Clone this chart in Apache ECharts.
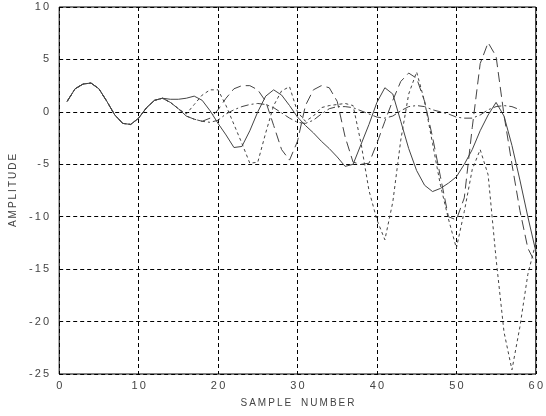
<!DOCTYPE html>
<html>
<head>
<meta charset="utf-8">
<script src="https://cdn.jsdelivr.net/npm/echarts@6/dist/echarts.min.js"></script>
<style>
  html, body { margin: 0; padding: 0; background: #fff; }
  #chart { width: 546px; height: 416px; }
</style>
</head>
<body>
<div id="chart"></div>
<script>
// tick labels
const xTicks = [0, 10, 20, 30, 40, 50, 60]
const yTicks = [-25, -20, -15, -10, -5, 0, 5, 10]

// samples 1..13 are the same for every trace
const common = [1.0, 2.2, 2.65, 2.75, 2.2, 1.0, -0.3, -1.1, -1.2, -0.6, 0.4, 1.1, 1.3]

// samples 14..60
const solidTail = [1.2, 1.2, 1.3, 1.5, 1.1, 0.1, -1.1, -2.2, -3.4, -3.3, -1.8, 0.0, 1.5, 2.1, 1.6, 0.6,
  -0.5, -1.3, -2.0, -2.8, -3.5, -4.3, -5.2, -5.0, -3.1, -1.2, 0.9, 2.3, 1.7, -0.9, -3.5, -5.6, -7.0,
  -7.6, -7.3, -6.8, -6.2, -5.0, -3.6, -1.8, -0.3, 0.9, -0.4, -3.2, -6.5, -10.0, -13.3]
const longDashTail = [0.9, 0.3, -0.4, -0.7, -0.9, -0.6, 0.2, 1.3, 2.2, 2.5, 2.5, 2.1, 1.0, -1.3, -3.6,
  -4.6, -2.8, 0.6, 2.1, 2.5, 2.3, 1.0, -2.4, -4.8, -5.0, -4.9, -3.0, -0.9, 1.1, 2.9, 3.7, 3.2, 1.0,
  -2.4, -6.2, -10.0, -10.3, -8.2, -1.5, 4.6, 6.6, 5.3, -0.3, -5.0, -9.4, -13.0, -14.5]
const dotTail = [0.9, 0.3, -0.2, 0.7, 1.6, 2.1, 2.1, 0.6, -1.2, -3.0, -4.9, -4.8, -2.0, 0.6, 2.0, 2.4,
  0.0, -0.9, -0.4, 0.4, 0.6, 0.7, 0.8, 0.6, -3.0, -7.5, -10.3, -12.2, -8.6, -2.7, 1.7, 3.8, 1.0,
  -3.0, -7.0, -10.2, -13.0, -9.5, -5.5, -3.6, -6.0, -14.0, -21.0, -24.6, -20.5, -15.5, -12.5]
// samples 14..58
const dashDotTail = [0.9, 0.3, -0.4, -0.7, -0.9, -1.0, -0.8, -0.2, 0.2, 0.5, 0.7, 0.8, 0.7, 0.4, -0.1,
  -0.6, -1.0, -1.1, -0.8, -0.2, 0.3, 0.5, 0.5, 0.4, 0.1, -0.2, -0.5, -0.6, -0.4, 0.1, 0.5, 0.6, 0.5,
  0.2, 0.0, -0.2, -0.5, -0.6, -0.6, -0.3, 0.2, 0.5, 0.6, 0.5, 0.2]

// sample number n -> [n, value]
function toPoints (values) {
  return values.map((v, i) => [i + 1, v])
}

// spread letters like the old plot fonts
function spaced (s) {
  return String(s).split('').join('\u2009')
}

const lineColor = '#444'
const textColor = '#444'

function makeSeries (tail, type) {
  return {
    type: 'line',
    data: toPoints(common.concat(tail)),
    showSymbol: false,
    symbol: 'none',
    animation: false,
    lineStyle: { color: lineColor, width: 1, type },
  }
}

const chart = echarts.init(document.getElementById('chart'), null, { renderer: 'canvas' })

chart.setOption({
  backgroundColor: '#fff',
  animation: false,
  grid: {
    left: 59,
    right: 8,
    top: 7,
    bottom: 42,
    show: true,
    borderColor: '#000',
    borderWidth: 1,
    backgroundColor: 'transparent',
  },
  xAxis: {
    type: 'value',
    min: xTicks[0],
    max: xTicks[xTicks.length - 1],
    interval: 10,
    name: spaced('SAMPLE') + '\u2003' + spaced('NUMBER'),
    nameLocation: 'middle',
    nameGap: 24,
    nameTextStyle: { color: textColor, fontSize: 10, fontFamily: 'Liberation Sans' },
    axisLine: { show: false },
    axisTick: { show: false },
    axisLabel: {
      color: textColor,
      fontSize: 11,
      fontFamily: 'Liberation Sans',
      margin: 6,
      formatter: v => spaced(v),
    },
    splitLine: { show: true, lineStyle: { color: '#000', type: [4, 3], width: 1 } },
  },
  yAxis: {
    type: 'value',
    min: yTicks[0],
    max: yTicks[yTicks.length - 1],
    interval: 5,
    name: spaced('AMPLITUDE'),
    nameLocation: 'middle',
    nameGap: 38,
    nameRotate: 90,
    nameTextStyle: { color: textColor, fontSize: 10, fontFamily: 'Liberation Sans' },
    axisLine: { show: false },
    axisTick: { show: false },
    axisLabel: {
      color: textColor,
      fontSize: 11,
      fontFamily: 'Liberation Sans',
      margin: 10,
      formatter: v => spaced(v),
    },
    splitLine: { show: true, lineStyle: { color: '#000', type: [4, 3], width: 1 } },
  },
  series: [
    makeSeries(dashDotTail, [8, 3, 2, 3]),
    makeSeries(dotTail, [3, 3]),
    makeSeries(longDashTail, [10, 5]),
    makeSeries(solidTail, 'solid'),
  ],
})
</script>
</body>
</html>
